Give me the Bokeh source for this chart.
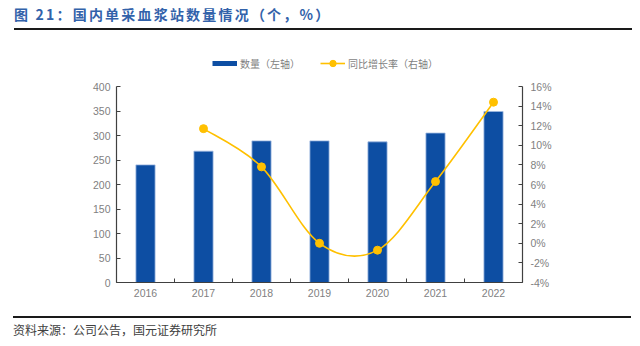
from bokeh.plotting import figure
from bokeh.models import (ColumnDataSource, Range1d, LinearAxis, FixedTicker,
                          Legend, LegendItem, Div)
from bokeh.layouts import column
from bokeh.embed import file_html
from bokeh.resources import INLINE

years = ["2016", "2017", "2018", "2019", "2020", "2021", "2022"]
counts = [240, 268, 289, 289, 287, 305, 349]
growth = [None, 11.7, 7.8, 0.0, -0.7, 6.3, 14.4]
left_ticks = [0, 50, 100, 150, 200, 250, 300, 350, 400]
right_ticks = [-4, -2, 0, 2, 4, 6, 8, 10, 12, 14, 16]

BAR = "#0D4EA3"
GOLD = "#FFC000"
AX = "#404040"
LBL = "#7F7F7F"
FONT = "Liberation Sans"
CJK = "Noto Sans CJK SC"

xs = list(range(len(years)))

# frame spans y 55..282 on the page; axes are bounded to 0..400 / -4..16
frac = 227 / 196
p = figure(width=640, height=286, output_backend="svg", toolbar_location=None,
           x_range=Range1d(-0.5, len(years) - 0.5),
           y_range=Range1d(0, 400 * frac),
           min_border_left=116, min_border_right=118, min_border_top=25,
           min_border_bottom=34, outline_line_color=None)
p.extra_y_ranges = {"right": Range1d(-4, -4 + 20 * frac)}
p.xgrid.visible = False
p.ygrid.visible = False
p.background_fill_color = "white"
p.border_fill_color = "white"

src = ColumnDataSource(dict(x=xs, y=counts))
bars = p.vbar(x="x", top="y", width=0.33, source=src, fill_color=BAR,
              line_color="#9DB8E0", line_width=0.8)

# smooth growth line: cubic Bezier segments built from the data points
gx = [x for x, g in zip(xs, growth) if g is not None]
gy = [g for g in growth if g is not None]
x0s, y0s, x1s, y1s, cx0, cy0, cx1, cy1 = [], [], [], [], [], [], [], []
n = len(gx)
for i in range(n - 1):
    pa = (gx[max(i - 1, 0)], gy[max(i - 1, 0)])
    pb = (gx[i], gy[i])
    pc = (gx[i + 1], gy[i + 1])
    pd = (gx[min(i + 2, n - 1)], gy[min(i + 2, n - 1)])
    x0s.append(pb[0]); y0s.append(pb[1])
    x1s.append(pc[0]); y1s.append(pc[1])
    cx0.append(pb[0] + (pc[0] - pa[0]) / 6); cy0.append(pb[1] + (pc[1] - pa[1]) / 6)
    cx1.append(pc[0] - (pd[0] - pb[0]) / 6); cy1.append(pc[1] - (pd[1] - pb[1]) / 6)
bsrc = ColumnDataSource(dict(x0=x0s, y0=y0s, x1=x1s, y1=y1s,
                             cx0=cx0, cy0=cy0, cx1=cx1, cy1=cy1))
bez = p.bezier(x0="x0", y0="y0", x1="x1", y1="y1", cx0="cx0", cy0="cy0",
               cx1="cx1", cy1="cy1", source=bsrc, line_color=GOLD,
               line_width=1.6, y_range_name="right")
sc = p.scatter(x=gx, y=gy, size=8, fill_color=GOLD, line_color=GOLD,
               y_range_name="right")

dummy = p.line(x=[0], y=[float("nan")], line_color=BAR, line_width=5)

# axes
def style_axis(ax):
    ax.axis_line_color = AX
    ax.axis_line_width = 1.2
    ax.major_tick_line_color = AX
    ax.minor_tick_line_color = AX
    ax.major_label_text_color = LBL
    ax.major_label_text_font = FONT
    ax.major_label_text_font_size = "10.5px"

ya = p.yaxis[0]
ya.ticker = FixedTicker(ticks=left_ticks)
ya.bounds = (0, 400)
ya.major_tick_in = 4
ya.major_tick_out = 0
ya.minor_tick_line_color = None
ya.major_label_standoff = 6
style_axis(ya)

ra = LinearAxis(y_range_name="right", ticker=FixedTicker(ticks=right_ticks),
                major_label_overrides={v: f"{v}%" for v in right_ticks},
                bounds=(-4, 16))
style_axis(ra)
ra.major_tick_in = 4
ra.major_tick_out = 0
ra.minor_tick_line_color = None
ra.major_label_standoff = 8
p.add_layout(ra, "right")

xa = p.xaxis[0]
xa.ticker = FixedTicker(ticks=xs, minor_ticks=[i - 0.5 for i in range(len(years) + 1)])
xa.major_label_overrides = {i: y for i, y in enumerate(years)}
style_axis(xa)
xa.major_tick_in = 0
xa.major_tick_out = 0
xa.minor_tick_in = 4
xa.minor_tick_out = 0
xa.major_label_standoff = 6

legend = Legend(items=[LegendItem(label="数量（左轴）", renderers=[dummy]),
                       LegendItem(label="同比增长率（右轴）", renderers=[bez, sc])],
                orientation="horizontal", location=(96, 211),
                border_line_color=None, background_fill_alpha=0,
                label_text_font=CJK, label_text_font_size="10px",
                label_text_color=LBL, glyph_width=25, glyph_height=16,
                label_height=16, label_standoff=3, spacing=20, padding=0, margin=0)
p.add_layout(legend, "center")

title = Div(text=('<div style="width:618px;height:30px;margin-left:14px;'
                  'box-sizing:border-box;border-bottom:2px solid #1a1a1a;'
                  'padding-top:5px;font-family:\'Noto Sans CJK SC\';font-weight:bold;'
                  'font-size:14px;letter-spacing:2.2px;line-height:18px;'
                  'color:#3262AA;white-space:nowrap;">'
                  '图 21：国内单采血浆站数量情况（个，%）</div>'),
            width=640, height=30, margin=0)
source = Div(text=('<div style="width:618px;height:30px;margin-left:13px;'
                   'box-sizing:border-box;border-top:2px solid #1a1a1a;'
                   'padding-top:3px;font-family:\'Noto Sans CJK SC\';'
                   'font-size:12px;line-height:18px;color:#404040;white-space:nowrap;">'
                   '资料来源：公司公告，国元证券研究所</div>'),
             width=640, height=30, margin=0)

layout = column(title, p, source, spacing=0)
open("out.html", "w").write(file_html(layout, INLINE))
